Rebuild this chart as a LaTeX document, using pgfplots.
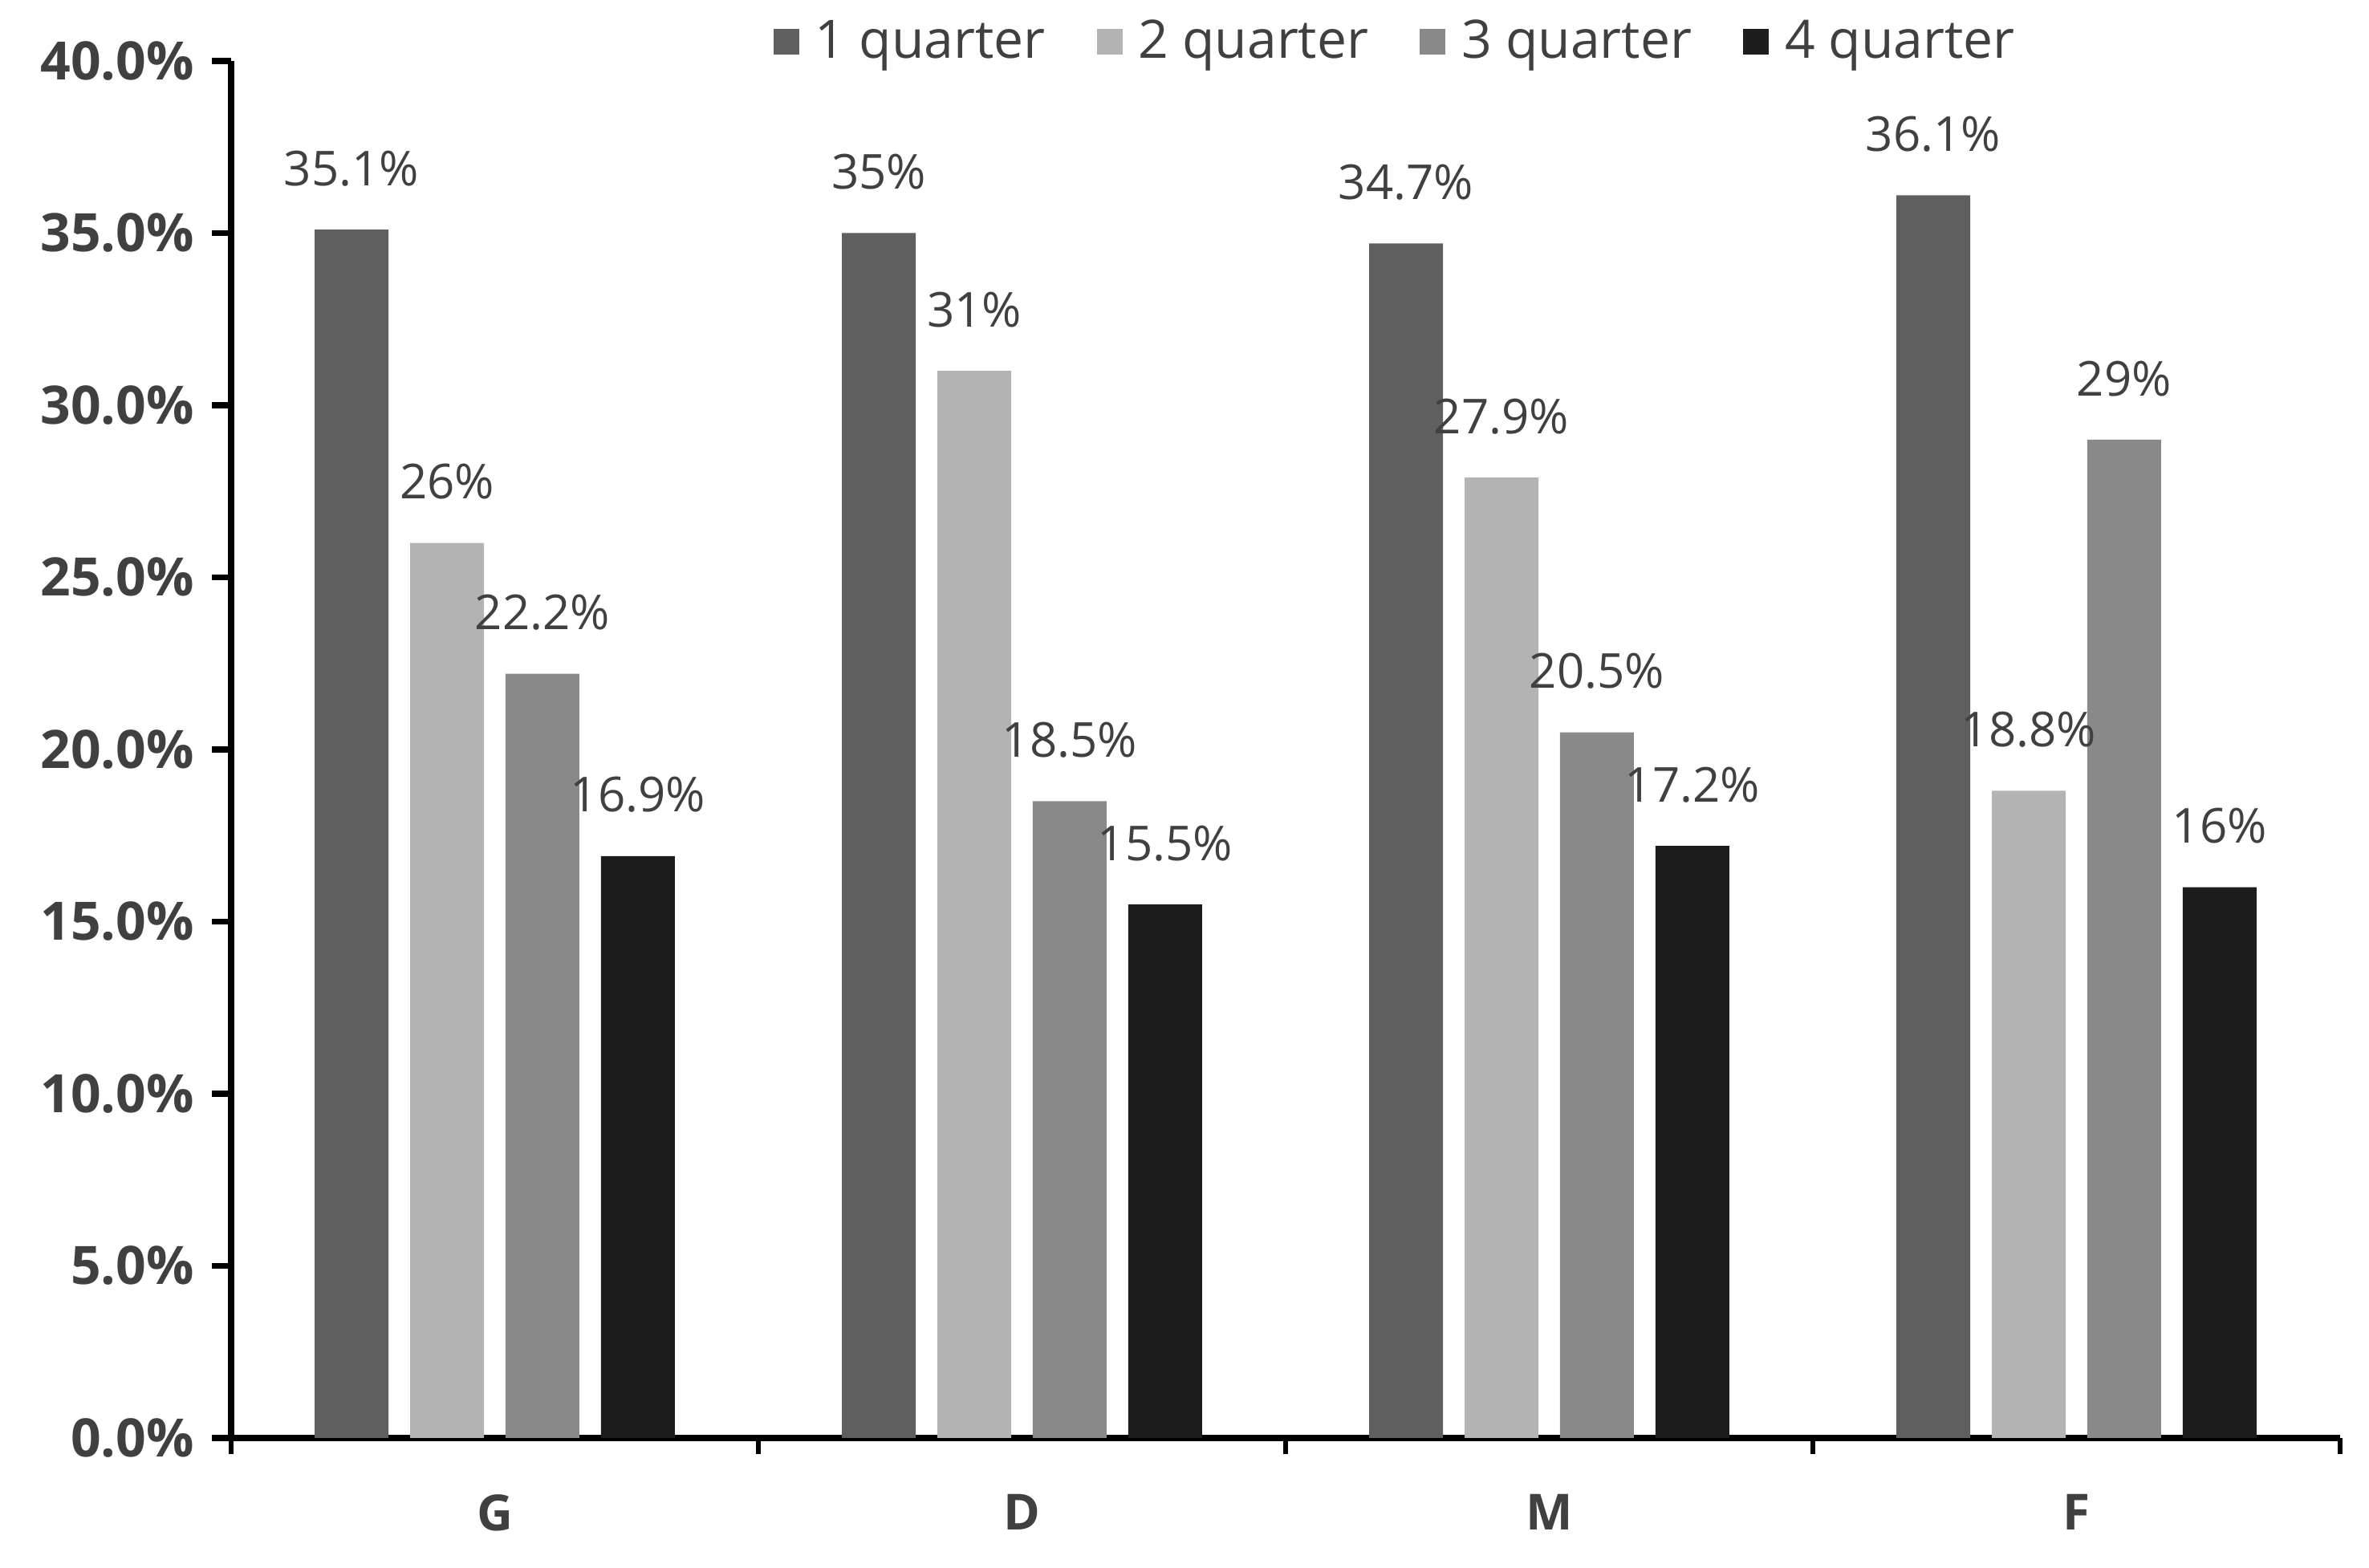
\documentclass[border=0pt]{standalone}
\usepackage{pgfplots}
\usepackage{fontspec}
\setmainfont{Open Sans}
\pgfplotsset{compat=1.18}

\definecolor{qone}{HTML}{5F5F5F}
\definecolor{qtwo}{HTML}{B3B3B3}
\definecolor{qthree}{HTML}{898989}
\definecolor{qfour}{HTML}{1C1C1C}
\definecolor{txt}{HTML}{404040}

\begin{document}
\begin{tikzpicture}
\begin{axis}[
    name=ax,
    scale only axis,
    width=657pt, height=429pt,
    xmin=-0.5, xmax=3.5,
    ymin=0, ymax=40,
    axis x line*=bottom, axis y line*=left,
    axis line style={black, line width=1.8pt},
    tick align=outside,
    xtick={0,1,2,3},
    xticklabels={G,D,M,F},
    major x tick style={draw=none},
    minor xtick={-0.5,0.5,1.5,2.5,3.5},
    minor x tick style={black, line width=1.5pt},
    minor tick length=5pt,
    ytick={0,5,...,40},
    y tick style={black, line width=1.8pt},
    major tick length=6pt,
    yticklabel={\pgfmathprintnumber[fixed,fixed zerofill,precision=1]{\tick}\%},
    /pgf/number format/assume math mode=true,
    x tick label style={font=\fontsize{15.5}{18}\selectfont\bfseries, text=txt, yshift=-8pt},
    y tick label style={font=\fontsize{16.5}{19}\selectfont\bfseries, text=txt, xshift=-2pt},
    bar width=0.14,
    ybar, bar shift=0pt,
    nodes near coords={\pgfmathprintnumber{\pgfplotspointmeta}\%},
    every node near coord/.style={font=\fontsize{15}{18}\selectfont, text=txt, yshift=10pt},
    legend style={at={(0.553,1.014)}, anchor=center, draw=none, fill=none,
        legend columns=-1, font=\fontsize{16.5}{19}\selectfont, text=txt,
        /tikz/every odd column/.append style={column sep=3pt},
        /tikz/every even column/.append style={column sep=14pt}},
    legend image code/.code={\fill[#1] (0pt,-4pt) rectangle (8pt,4pt);},
    clip=false,
]
\addplot[fill=qone, draw=none] coordinates {(-0.2715,35.1) (0.7285,35) (1.7285,34.7) (2.7285,36.1)};
\addlegendentry{1 quarter}
\addplot[fill=qtwo, draw=none] coordinates {(-0.0905,26) (0.9095,31) (1.9095,27.9) (2.9095,18.8)};
\addlegendentry{2 quarter}
\addplot[fill=qthree, draw=none] coordinates {(0.0905,22.2) (1.0905,18.5) (2.0905,20.5) (3.0905,29)};
\addlegendentry{3 quarter}
\addplot[fill=qfour, draw=none] coordinates {(0.2715,16.9) (1.2715,15.5) (2.2715,17.2) (3.2715,16)};
\addlegendentry{4 quarter}
\end{axis}
\path ([shift={(-72pt,-40.5pt)}]ax.south west) rectangle ([shift={(9pt,19pt)}]ax.north east);
\end{tikzpicture}
\end{document}
